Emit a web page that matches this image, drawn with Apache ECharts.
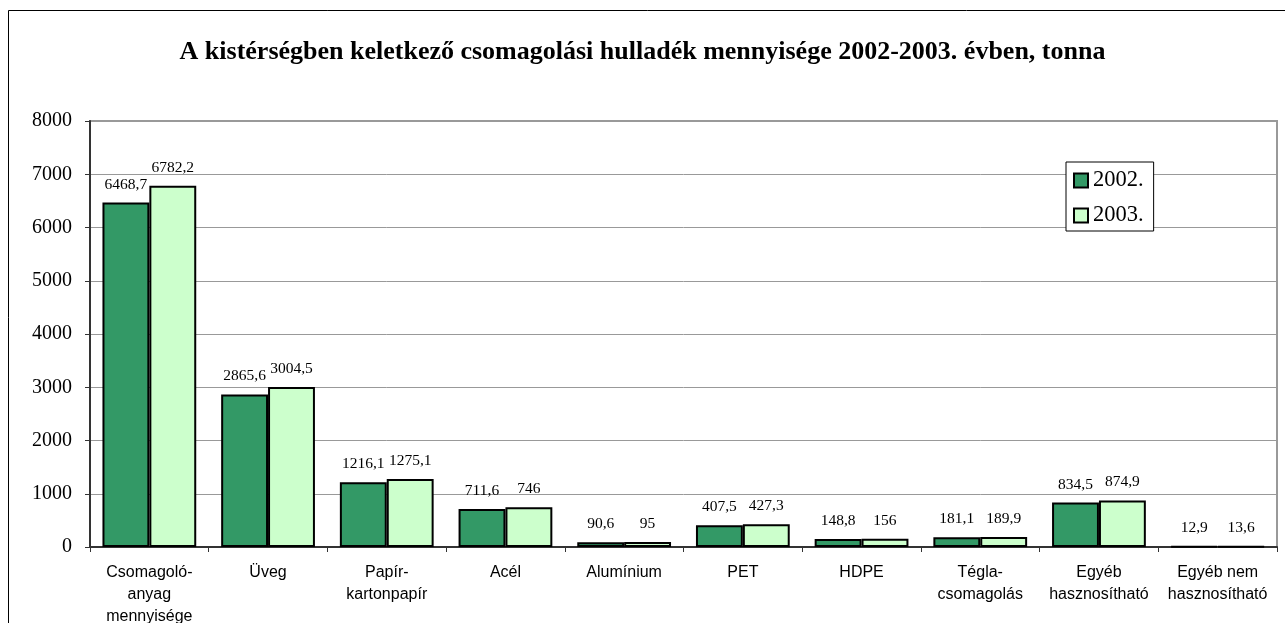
<!DOCTYPE html>
<html><head><meta charset="utf-8">
<script src="https://cdn.jsdelivr.net/npm/echarts@6/dist/echarts.min.js"></script>
<style>html,body{margin:0;padding:0;background:#fff}#c{width:1285px;height:623px}</style>
</head><body><div id="c"></div>
<script>
const categories = ["Csomagoló-\nanyag\nmennyisége","Üveg","Papír-\nkartonpapír","Acél","Alumínium","PET","HDPE","Tégla-\ncsomagolás","Egyéb\nhasznosítható","Egyéb nem\nhasznosítható"];
const values2002 = [6468.7,2865.6,1216.1,711.6,90.6,407.5,148.8,181.1,834.5,12.9];
const values2003 = [6782.2,3004.5,1275.1,746,95,427.3,156,189.9,874.9,13.6];
const seriesNames = ["2002.","2003."];
const titleText = "A kistérségben keletkező csomagolási hulladék mennyisége 2002-2003. évben, tonna";

const chart = echarts.init(document.getElementById('c'));
const lbl = {show:true,position:'top',distance:10,fontFamily:'Liberation Serif',fontSize:15.5,color:'#000',
  formatter:p=>String(p.value).replace('.',',')};
chart.setOption({
  animation:false,
  title:{text:titleText,left:'center',top:34,textStyle:{fontFamily:'Liberation Serif',fontWeight:'bold',fontSize:26,color:'#000'}},
  graphic:[{type:'rect',shape:{x:8.5,y:10.5,width:1300,height:700},style:{fill:'none',stroke:'#000',lineWidth:1},silent:true}],
  legend:{orient:'vertical',left:1066,top:162,icon:'rect',itemWidth:14,itemHeight:14,itemGap:12,padding:[7,10,4,7],
    borderColor:'#000',borderWidth:1,backgroundColor:'#fff',
    textStyle:{fontFamily:'Liberation Serif',fontSize:22.5,color:'#000',padding:[2,0,0,0]},data:seriesNames},
  grid:{left:90,top:121,right:8,bottom:76,outerBoundsMode:'none',containLabel:false,show:true,borderColor:'#999',borderWidth:2},
  xAxis:{type:'category',data:categories,
    axisLine:{lineStyle:{color:'#333',width:2}},
    axisTick:{show:true,length:5,lineStyle:{color:'#333',width:1}},
    axisLabel:{interval:0,hideOverlap:false,fontFamily:'Liberation Sans',fontSize:16,color:'#000',lineHeight:22,margin:15}},
  yAxis:{type:'value',min:0,max:8000,interval:1000,
    axisLine:{show:true,lineStyle:{color:'#333',width:2}},
    axisTick:{show:true,length:5,lineStyle:{color:'#333'}},
    axisLabel:{fontFamily:'Liberation Serif',fontSize:20,color:'#000',margin:18,formatter:v=>String(v)},
    splitLine:{lineStyle:{color:'#999',width:1}}},
  series:[
    {name:seriesNames[0],type:'bar',data:values2002,barGap:'0%',barCategoryGap:'21%',
     itemStyle:{color:'#339966',borderColor:'#000',borderWidth:2},label:lbl},
    {name:seriesNames[1],type:'bar',data:values2003,
     itemStyle:{color:'#CCFFCC',borderColor:'#000',borderWidth:2},label:lbl}
  ]
});
</script></body></html>
